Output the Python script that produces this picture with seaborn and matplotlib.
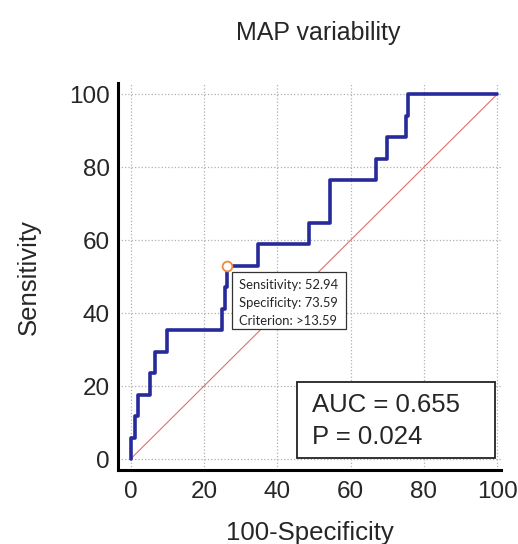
import numpy as np
import pandas as pd
import matplotlib
matplotlib.use("Agg")
import matplotlib.pyplot as plt
import seaborn as sns
from matplotlib.patches import Rectangle
from matplotlib.ticker import MultipleLocator

# ROC points: (100-specificity, sensitivity) at each jump
fpr = [0, 0, 1.2, 2.1, 5.3, 6.6, 10.0, 24.8, 25.7, 26.41, 34.8, 48.6, 54.5, 66.8, 69.8, 75.0, 75.6, 100]
tpr = [0, 5.88, 11.76, 17.65, 23.53, 29.41, 35.29, 41.18, 47.06, 52.94, 58.82, 64.71, 76.47, 82.35, 88.24, 94.12, 100, 100]
ref_line = [0, 100]
best_point = (26.41, 52.94)
best_text = ["Sensitivity: 52.94", "Specificity: 73.59", "Criterion: >13.59"]
stats_text = ["AUC = 0.655", "P = 0.024"]
ticks = [0, 20, 40, 60, 80, 100]

sns.set_style("white")
plt.rcParams["font.family"] = ["Liberation Sans", "DejaVu Sans"]

roc = pd.DataFrame({"fpr": fpr, "tpr": tpr})

fig = plt.figure(figsize=(5.18, 5.44), dpi=100)
ax = fig.add_axes([0.228, 0.136, 0.739, 0.711])

ax.plot(ref_line, ref_line, color="#e07070", lw=0.8, zorder=2)
sns.lineplot(data=roc, x="fpr", y="tpr", sort=False, estimator=None,
             drawstyle="steps-post", color="#262a9a", lw=2.6, ax=ax, zorder=3)
ax.plot(*best_point, marker="o", ms=7, mfc="white", mec="#f08a3c", mew=1.3, zorder=4)

# criterion box
ax.add_patch(Rectangle((27.6, 35.6), 31.1, 15.6, fc="white", ec="#333333", lw=0.9, zorder=5))
for i, line in enumerate(best_text):
    ax.text(29.6, 47.8 - i * 5.0, line, fontsize=9.4, family=["Lato", "DejaVu Sans"],
            va="center", ha="left", zorder=6)

# AUC box
ax.add_patch(Rectangle((45.3, 0.3), 54.0, 20.9, fc="white", ec="#222222", lw=1.3, zorder=5))
for i, line in enumerate(stats_text):
    ax.text(49.6, 14.9 - i * 8.8, line, fontsize=18.5, va="center", ha="left", zorder=6)

ax.set_xlim(-3.4, 101)
ax.set_ylim(-3, 103)
ax.set_xticks(ticks)
ax.set_yticks(ticks)
ax.xaxis.set_minor_locator(MultipleLocator(5))
ax.yaxis.set_minor_locator(MultipleLocator(5))
ax.tick_params(which="major", direction="in", length=7, width=1.6, labelsize=17.5, pad=6)
ax.tick_params(axis="x", which="major", pad=8)
ax.tick_params(which="minor", direction="in", length=4, width=1.4)
ax.grid(True, which="major", color="#b0b0b0", ls=":", lw=0.9)
for side in ["top", "right"]:
    ax.spines[side].set_visible(False)
for side in ["left", "bottom"]:
    ax.spines[side].set_linewidth(2.2)
    ax.spines[side].set_color("black")

ax.set_xlabel("100-Specificity", fontsize=18.5, labelpad=13)
ax.set_ylabel("Sensitivity", fontsize=18.5, labelpad=20)
fig.text(0.614, 0.94, "MAP variability", fontsize=18, ha="center", va="center")

fig.savefig("out.png", dpi=100)
